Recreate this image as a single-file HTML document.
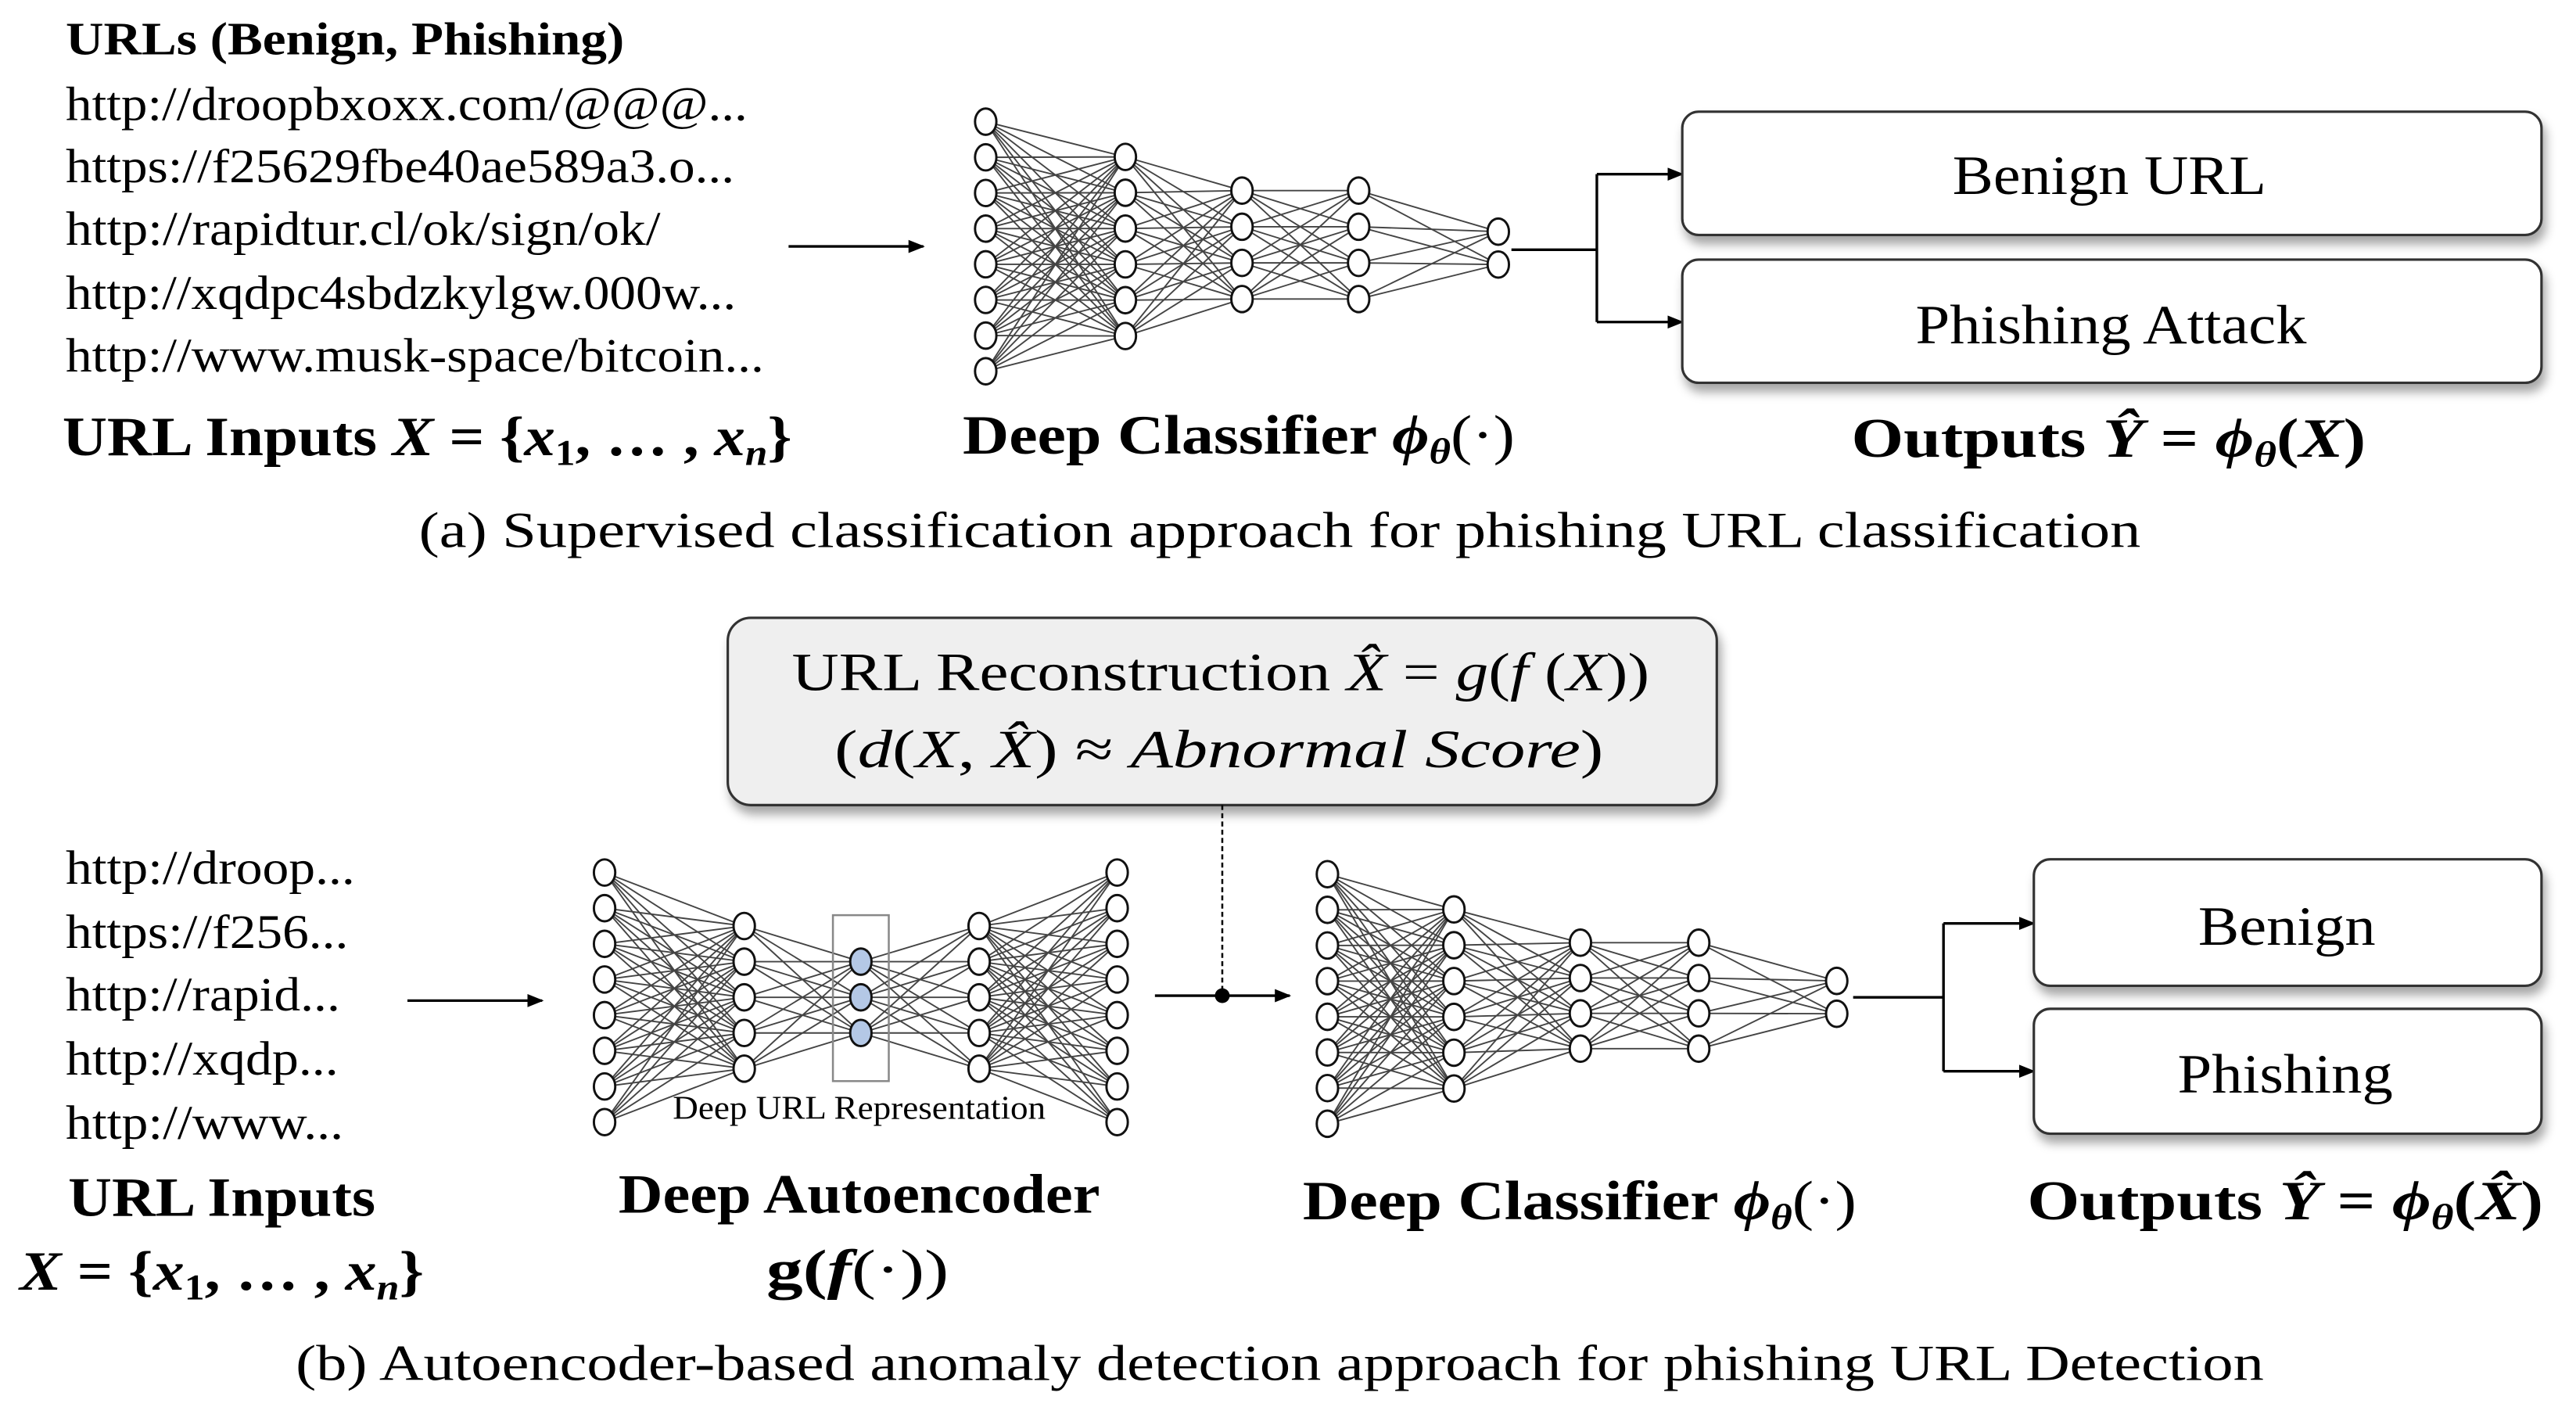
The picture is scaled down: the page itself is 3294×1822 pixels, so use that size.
<!DOCTYPE html>
<html><head><meta charset="utf-8"><style>
html,body{margin:0;padding:0;background:#fff}
svg{display:block}
text{font-family:"Liberation Serif",serif;fill:#000}
.b{font-weight:bold}
.m{font-style:italic}
</style></head><body>
<svg id="s" width="3294" height="1822" viewBox="0 0 1568 867.3" preserveAspectRatio="none" xmlns="http://www.w3.org/2000/svg">
<defs>
<marker id="ar" markerWidth="10" markerHeight="8" refX="9" refY="4" orient="auto" markerUnits="userSpaceOnUse"><path d="M0,0 L10,4 L0,8 z" fill="#000"/></marker>
<filter id="sh" x="-5%" y="-10%" width="115%" height="140%"><feDropShadow dx="2" dy="5" stdDeviation="3" flood-color="#000" flood-opacity="0.35"/></filter>
</defs>
<g id="nets"></g>

<!-- (a) -->
<text x="40" y="33" font-size="28" class="b" textLength="340" lengthAdjust="spacingAndGlyphs">URLs (Benign, Phishing)</text>
<g font-size="29">
<text x="40" y="73" textLength="415" lengthAdjust="spacingAndGlyphs">http://droopbxoxx.com/@@@...</text>
<text x="40" y="111" textLength="407" lengthAdjust="spacingAndGlyphs">https://f25629fbe40ae589a3.o...</text>
<text x="40" y="149" textLength="362" lengthAdjust="spacingAndGlyphs">http://rapidtur.cl/ok/sign/ok/</text>
<text x="40" y="188" textLength="408" lengthAdjust="spacingAndGlyphs">http://xqdpc4sbdzkylgw.000w...</text>
<text x="40" y="226" textLength="425" lengthAdjust="spacingAndGlyphs">http://www.musk-space/bitcoin...</text>
</g>
<text x="38" y="277" font-size="34" class="b" textLength="444" lengthAdjust="spacingAndGlyphs">URL Inputs <tspan class="m">X</tspan> = {<tspan class="m">x</tspan><tspan font-size="22" dy="6">1</tspan><tspan dy="-6">, … , </tspan><tspan class="m">x</tspan><tspan font-size="22" dy="6" class="m">n</tspan><tspan dy="-6">}</tspan></text>
<line x1="480" y1="150" x2="562" y2="150" stroke="#000" stroke-width="1.6" marker-end="url(#ar)"/>
<text x="586" y="276" font-size="34" class="b" textLength="336" lengthAdjust="spacingAndGlyphs">Deep Classifier <tspan class="m">ϕ</tspan><tspan font-size="22" dy="6" class="m">θ</tspan><tspan dy="-6" font-weight="normal">(·)</tspan></text>
<path d="M920,152 H972 M972,106 V196" stroke="#000" stroke-width="1.6" fill="none"/>
<line x1="972" y1="106" x2="1024" y2="106" stroke="#000" stroke-width="1.6" marker-end="url(#ar)"/>
<line x1="972" y1="196" x2="1024" y2="196" stroke="#000" stroke-width="1.6" marker-end="url(#ar)"/>
<rect x="1024" y="68" width="523" height="75" rx="10" fill="#fff" stroke="#333" stroke-width="1.5" filter="url(#sh)"/>
<rect x="1024" y="158" width="523" height="75" rx="10" fill="#fff" stroke="#333" stroke-width="1.5" filter="url(#sh)"/>
<text x="1284" y="118" font-size="34" text-anchor="middle" textLength="191" lengthAdjust="spacingAndGlyphs">Benign URL</text>
<text x="1285" y="209" font-size="34" text-anchor="middle" textLength="238" lengthAdjust="spacingAndGlyphs">Phishing Attack</text>
<text x="1127" y="278" font-size="34" class="b" textLength="313" lengthAdjust="spacingAndGlyphs">Outputs <tspan class="m">Ŷ</tspan> = <tspan class="m">ϕ</tspan><tspan font-size="22" dy="6" class="m">θ</tspan><tspan dy="-6">(</tspan><tspan class="m">X</tspan>)</text>
<text x="779" y="333" font-size="31" text-anchor="middle" textLength="1048" lengthAdjust="spacingAndGlyphs">(a) Supervised classification approach for phishing URL classification</text>

<!-- (b) -->
<rect x="443" y="376" width="602" height="114" rx="14" fill="#efefef" stroke="#333" stroke-width="1.5" filter="url(#sh)"/>
<text x="743" y="420" font-size="33" text-anchor="middle" textLength="522" lengthAdjust="spacingAndGlyphs">URL Reconstruction <tspan class="m">X̂</tspan> = <tspan class="m">g</tspan>(<tspan class="m">f</tspan> (<tspan class="m">X</tspan>))</text>
<text x="742" y="467" font-size="33" text-anchor="middle" textLength="468" lengthAdjust="spacingAndGlyphs">(<tspan class="m">d</tspan>(<tspan class="m">X</tspan>, <tspan class="m">X̂</tspan>) ≈ <tspan class="m">Abnormal Score</tspan>)</text>
<line x1="744" y1="490" x2="744" y2="606" stroke="#000" stroke-width="1.2" stroke-dasharray="3,2"/>
<circle cx="744" cy="606" r="4.5" fill="#000"/>
<line x1="703" y1="606" x2="785" y2="606" stroke="#000" stroke-width="1.6" marker-end="url(#ar)"/>
<g font-size="29">
<text x="40" y="538" textLength="176" lengthAdjust="spacingAndGlyphs">http://droop...</text>
<text x="40" y="577" textLength="172" lengthAdjust="spacingAndGlyphs">https://f256...</text>
<text x="40" y="615" textLength="167" lengthAdjust="spacingAndGlyphs">http://rapid...</text>
<text x="40" y="654" textLength="166" lengthAdjust="spacingAndGlyphs">http://xqdp...</text>
<text x="40" y="693" textLength="169" lengthAdjust="spacingAndGlyphs">http://www...</text>
</g>
<line x1="248" y1="609" x2="330" y2="609" stroke="#000" stroke-width="1.6" marker-end="url(#ar)"/>
<rect x="507" y="557" width="34" height="101" fill="none" stroke="#888" stroke-width="1.2"/>
<text x="523" y="681" font-size="20" text-anchor="middle" textLength="227" lengthAdjust="spacingAndGlyphs">Deep URL Representation</text>
<text x="135" y="740" font-size="34" class="b" text-anchor="middle" textLength="187" lengthAdjust="spacingAndGlyphs">URL Inputs</text>
<text x="12" y="785" font-size="34" class="b" textLength="246" lengthAdjust="spacingAndGlyphs"><tspan class="m">X</tspan> = {<tspan class="m">x</tspan><tspan font-size="22" dy="6">1</tspan><tspan dy="-6">, … , </tspan><tspan class="m">x</tspan><tspan font-size="22" dy="6" class="m">n</tspan><tspan dy="-6">}</tspan></text>
<text x="523" y="738" font-size="34" class="b" text-anchor="middle" textLength="293" lengthAdjust="spacingAndGlyphs">Deep Autoencoder</text>
<text x="522" y="784" font-size="34" class="b" text-anchor="middle" textLength="111" lengthAdjust="spacingAndGlyphs">g(<tspan class="m">f</tspan><tspan font-weight="normal">(·))</tspan></text>
<text x="793" y="742" font-size="34" class="b" textLength="337" lengthAdjust="spacingAndGlyphs">Deep Classifier <tspan class="m">ϕ</tspan><tspan font-size="22" dy="6" class="m">θ</tspan><tspan dy="-6" font-weight="normal">(·)</tspan></text>
<path d="M1128,607 H1183 M1183,562 V652" stroke="#000" stroke-width="1.6" fill="none"/>
<line x1="1183" y1="562" x2="1238" y2="562" stroke="#000" stroke-width="1.6" marker-end="url(#ar)"/>
<line x1="1183" y1="652" x2="1238" y2="652" stroke="#000" stroke-width="1.6" marker-end="url(#ar)"/>
<rect x="1238" y="523" width="309" height="77" rx="10" fill="#fff" stroke="#333" stroke-width="1.5" filter="url(#sh)"/>
<rect x="1238" y="614" width="309" height="76" rx="10" fill="#fff" stroke="#333" stroke-width="1.5" filter="url(#sh)"/>
<text x="1392" y="575" font-size="34" text-anchor="middle" textLength="108" lengthAdjust="spacingAndGlyphs">Benign</text>
<text x="1391" y="665" font-size="34" text-anchor="middle" textLength="131" lengthAdjust="spacingAndGlyphs">Phishing</text>
<text x="1234" y="742" font-size="34" class="b" textLength="314" lengthAdjust="spacingAndGlyphs">Outputs <tspan class="m">Ŷ</tspan> = <tspan class="m">ϕ</tspan><tspan font-size="22" dy="6" class="m">θ</tspan><tspan dy="-6">(</tspan><tspan class="m">X̂</tspan>)</text>
<text x="779" y="840" font-size="31" text-anchor="middle" textLength="1198" lengthAdjust="spacingAndGlyphs">(b) Autoencoder-based anomaly detection approach for phishing URL Detection</text>
</svg>
<script>
(function(){
var g=document.getElementById("nets");
function col(n,c,step){var a=[];for(var i=0;i<n;i++)a.push(c+(i-(n-1)/2)*step);return a;}
function net(layers,blue){
  var out="";
  for(var l=0;l<layers.length-1;l++){var A=layers[l],B=layers[l+1];
    A.ys.forEach(function(y1){B.ys.forEach(function(y2){out+='<line x1="'+A.x+'" y1="'+y1+'" x2="'+B.x+'" y2="'+y2+'" stroke="#444" stroke-width="0.9"/>';});});}
  layers.forEach(function(L,li){L.ys.forEach(function(y){out+='<ellipse cx="'+L.x+'" cy="'+y+'" rx="6.5" ry="8" fill="'+(blue===li?'#b4c8e6':'#fff')+'" stroke="#111" stroke-width="1.4"/>';});});
  return out;}
var s="";
s+=net([{x:600,ys:col(8,150,21.7)},{x:685,ys:col(6,150,21.8)},{x:756,ys:col(4,149,22)},{x:827,ys:col(4,149,22)},{x:912,ys:col(2,151,20)}]);
s+=net([{x:368,ys:col(8,607,21.7)},{x:453,ys:col(5,607,21.7)},{x:524,ys:col(3,607,21.7)},{x:596,ys:col(5,607,21.7)},{x:680,ys:col(8,607,21.7)}],2);
s+=net([{x:808,ys:col(8,608,21.7)},{x:885,ys:col(6,608,21.8)},{x:962,ys:col(4,606,21.5)},{x:1034,ys:col(4,606,21.5)},{x:1118,ys:col(2,607,20)}]);
g.innerHTML=s;
})();
</script>
</body></html>
